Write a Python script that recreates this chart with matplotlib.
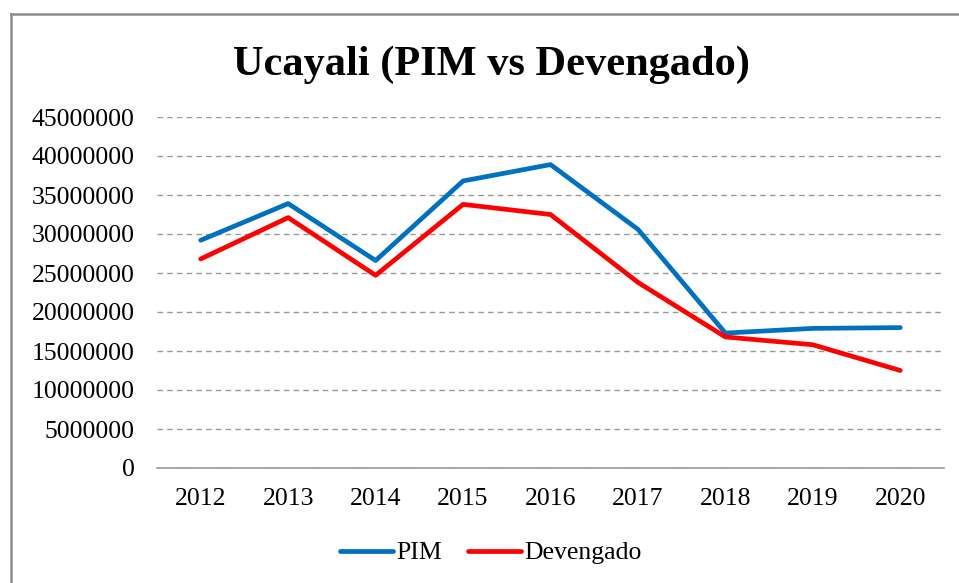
import matplotlib.pyplot as plt
from matplotlib.lines import Line2D

# Datos
years = ["2012", "2013", "2014", "2015", "2016", "2017", "2018", "2019", "2020"]
pim = [29200000, 33900000, 26600000, 36800000, 38900000, 30600000, 17300000, 17900000, 18000000]
devengado = [26800000, 32100000, 24700000, 33800000, 32500000, 23800000, 16800000, 15800000, 12500000]
y_ticks = list(range(0, 45000001, 5000000))

plt.rcParams['font.family'] = ['Liberation Serif', 'DejaVu Serif']

W, H = 959, 583
fig = plt.figure(figsize=(W / 100, H / 100), dpi=100)
ax = fig.add_axes([157 / W, 1 - 468 / H, (944 - 157) / W, (468 - 117) / H])

x = list(range(len(years)))
ax.plot(x, pim, color="#0070C0", linewidth=3.4, label="PIM", solid_capstyle='round')
ax.plot(x, devengado, color="#FF0000", linewidth=3.4, label="Devengado", solid_capstyle='round')

ax.set_xlim(-0.5, len(years) - 0.5)
ax.set_ylim(0, 45000000)
ax.set_xticks(x)
ax.set_xticklabels(years)
ax.set_yticks(y_ticks)
ax.set_yticklabels([str(v) for v in y_ticks])
ax.tick_params(axis='both', length=0, labelsize=18.5, colors='black')
ax.tick_params(axis='x', pad=14.5)
ax.tick_params(axis='y', pad=16)

ax.grid(axis='y', color='#999999', linestyle=(0, (4, 3)), linewidth=1)
for s in ['top', 'right', 'left']:
    ax.spines[s].set_visible(False)
ax.spines['bottom'].set_color('#999999')
ax.spines['bottom'].set_linewidth(1.2)

fig.text(491 / W, 1 - 65 / H, "Ucayali (PIM vs Devengado)", ha='center', va='center',
         fontsize=30.5, fontweight='bold')

fig.legend(loc='center', bbox_to_anchor=(491 / W, 1 - 553 / H), ncol=2, frameon=False,
           fontsize=18.5, handlelength=2.05, handletextpad=0.15, columnspacing=1.0)

# marco gris del grafico
fig.add_artist(Line2D([11 / W, 11 / W], [0, 1 - 14 / H], color='#8c8c8c', linewidth=1.8))
fig.add_artist(Line2D([11 / W, 1], [1 - 14 / H, 1 - 14 / H], color='#8c8c8c', linewidth=1.8))

fig.savefig("out.png", dpi=100)
